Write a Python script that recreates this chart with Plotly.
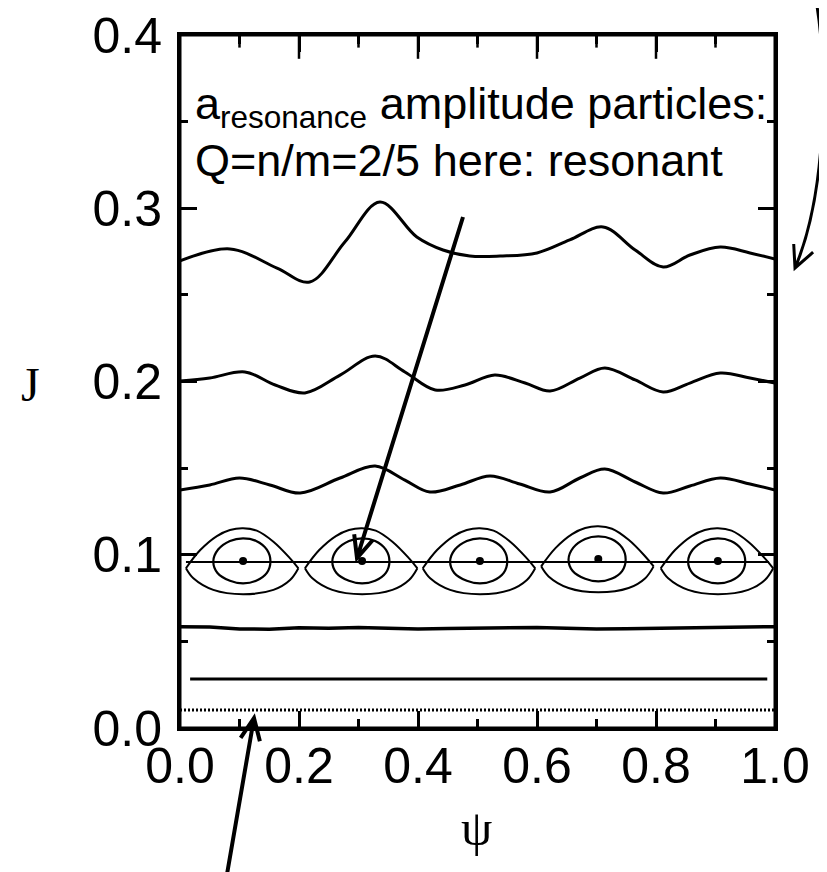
import math
import plotly.graph_objects as go

# ---------------- data ----------------
psi_c1 = [0.0, 0.084, 0.163, 0.218, 0.277, 0.336, 0.398, 0.442, 0.487, 0.538, 0.60, 0.655, 0.711, 0.765, 0.812, 0.857, 0.908, 0.958, 1.0]
J_c1 = [0.2696, 0.2765, 0.2655, 0.2574, 0.2805, 0.3036, 0.2834, 0.2759, 0.2724, 0.2724, 0.2742, 0.2817, 0.2892, 0.2759, 0.2661, 0.2730, 0.2776, 0.2742, 0.2707]

psi_c2 = [0.0, 0.05, 0.109, 0.16, 0.21, 0.269, 0.328, 0.378, 0.429, 0.479, 0.529, 0.58, 0.622, 0.672, 0.714, 0.765, 0.812, 0.857, 0.908, 0.958, 1.0]
J_c2 = [0.2003, 0.2020, 0.2055, 0.1980, 0.1934, 0.2037, 0.2147, 0.2055, 0.1951, 0.1980, 0.2037, 0.1991, 0.1945, 0.2020, 0.2078, 0.2009, 0.1940, 0.1991, 0.2049, 0.2020, 0.1991]

psi_c3 = [0.0, 0.05, 0.10, 0.151, 0.202, 0.269, 0.328, 0.378, 0.42, 0.471, 0.521, 0.571, 0.622, 0.672, 0.714, 0.765, 0.812, 0.857, 0.908, 0.958, 1.0]
J_c3 = [0.1374, 0.1403, 0.1443, 0.1403, 0.1356, 0.1443, 0.1512, 0.1431, 0.1362, 0.1403, 0.1455, 0.1408, 0.1362, 0.1443, 0.1495, 0.1420, 0.1356, 0.1397, 0.1443, 0.1408, 0.1374]

psi_c4 = [0.0, 0.05, 0.10, 0.15, 0.20, 0.25, 0.30, 0.35, 0.40, 0.45, 0.50, 0.55, 0.60, 0.65, 0.70, 0.75, 0.80, 0.85, 0.90, 0.95, 1.0]
J_c4 = [0.0585, 0.0583, 0.0572, 0.0570, 0.0578, 0.0576, 0.0580, 0.0577, 0.0571, 0.0574, 0.0577, 0.0580, 0.0580, 0.0576, 0.0571, 0.0573, 0.0576, 0.0577, 0.0577, 0.0580, 0.0585]

psi_c5 = [0.017, 0.2, 0.4, 0.6, 0.8, 0.987]
J_c5 = [0.0283, 0.0283, 0.0283, 0.0286, 0.0283, 0.0283]

psi_c6 = [0.0, 1.0]
J_c6 = [0.0104, 0.0104]

psi_sep = [0.01, 0.99]
J_sep = [0.0958, 0.0958]

# island centres (O-points)
island_psi = [0.106, 0.306, 0.504, 0.703, 0.904]
island_J = [0.0964, 0.0964, 0.0964, 0.0975, 0.0964]

# outer island contour: offsets in psi from the centre, absolute J
outer_top_dpsi = [-0.096, -0.072, -0.044, -0.022, 0.0, 0.023, 0.051, 0.079, 0.093]
outer_top_J = [0.0922, 0.1027, 0.1108, 0.1143, 0.1153, 0.1139, 0.1075, 0.0979, 0.0922]
outer_bot_dpsi = [0.093, 0.079, 0.051, 0.0, -0.050, -0.0835, -0.096]
outer_bot_J = [0.0922, 0.0854, 0.0797, 0.0772, 0.0797, 0.0864, 0.0922]

# inner island contour (closed)
inner_dpsi = [-0.050, -0.042, -0.022, 0.0, 0.022, 0.040, 0.046, 0.040, 0.022, 0.0, -0.022, -0.043, -0.050]
inner_J = [0.0962, 0.1030, 0.1080, 0.1095, 0.1080, 0.1030, 0.0962, 0.0895, 0.0850, 0.0835, 0.0850, 0.0895, 0.0962]

x_ticks = [0.0, 0.2, 0.4, 0.6, 0.8, 1.0]
x_minor_ticks = [0.1, 0.3, 0.5, 0.7, 0.9]
y_ticks = [0.0, 0.1, 0.2, 0.3, 0.4]
y_max = 0.4

# ---------------- figure ----------------
W, H = 827, 872
OFF = 8                          # page body margin added by the browser
L, R, T, B = 180, 775, 35, 728   # plot box as seen on screen (pixels)

def paper(px, py):
    return ((px - L) / (R - L), (B - py) / (B - T))

fig = go.Figure()

def line(x, y, w, dash=None, shape="spline"):
    fig.add_trace(go.Scatter(x=x, y=y, mode="lines",
                             line=dict(color="black", width=w, shape=shape, dash=dash),
                             hoverinfo="skip", showlegend=False, cliponaxis=True))

line(psi_c1, J_c1, 3)
line(psi_c2, J_c2, 3)
line(psi_c3, J_c3, 3)
line(psi_c4, J_c4, 3.5, shape="linear")
line(psi_c5, J_c5, 3, shape="linear")
line(psi_c6, J_c6, 3, dash="2px,2px", shape="linear")
line(psi_sep, J_sep, 2, shape="linear")

for pc, jc in zip(island_psi, island_J):
    dj = jc - island_J[0]
    line([pc + d for d in outer_top_dpsi], [j + dj for j in outer_top_J], 2)
    line([pc + d for d in outer_bot_dpsi], [j + dj for j in outer_bot_J], 2)
    line([pc + d for d in inner_dpsi], [j + dj for j in inner_J], 2.2)

fig.add_trace(go.Scatter(x=island_psi, y=island_J, mode="markers",
                         marker=dict(color="black", size=8),
                         hoverinfo="skip", showlegend=False))

# top-edge ticks (mirror of the psi axis), clipped to the plot so only the inner half shows
for vals, size in ((x_ticks[1:-1], 34), (x_minor_ticks, 18)):
    fig.add_trace(go.Scatter(x=vals, y=[y_max] * len(vals), mode="markers", cliponaxis=True,
                             marker=dict(symbol="line-ns-open", size=size, color="black",
                                         line=dict(color="black", width=2.5)),
                             hoverinfo="skip", showlegend=False))

tickfont = dict(family="Liberation Sans, Arial", size=50, color="black")
axis_common = dict(showline=True, linecolor="black", linewidth=3, mirror="allticks",
                   ticks="inside", ticklen=17, tickwidth=2.5, tickcolor="black",
                   showgrid=False, zeroline=False, tickfont=tickfont, tickformat=".1f",
                   automargin=False, ticklabeloverflow="allow")

xminor = dict(ticks="inside", ticklen=9, tickwidth=2.5, tickcolor="black", dtick=0.1, showgrid=False)
fig.update_xaxes(range=[0, 1], tickvals=x_ticks, ticklabelstandoff=-8, minor=xminor, **axis_common)
fig.update_yaxes(range=[0, y_max], tickvals=y_ticks, ticklabelstandoff=5,
                 minor=dict(ticks="inside", ticklen=8, tickwidth=2.5, tickcolor="black", dtick=0.05, showgrid=False),
                 **axis_common)

# frame drawn explicitly as well, so the top/right edges are always shown
fig.add_shape(type="rect", xref="paper", yref="paper", x0=0, y0=0, x1=1, y1=1,
              line=dict(color="black", width=3), layer="above")

# ---------------- text ----------------
txtfont = dict(family="Liberation Sans, Arial", size=45, color="black")
ax1, ay1 = paper(193, 106)
fig.add_annotation(xref="paper", yref="paper", x=ax1, y=ay1, xanchor="left", yanchor="middle",
                   text="a<sub>resonance</sub> amplitude particles:", showarrow=False, font=txtfont)
ax2, ay2 = paper(193, 160)
fig.add_annotation(xref="paper", yref="paper", x=ax2, y=ay2, xanchor="left", yanchor="middle",
                   text="Q=n/m=2/5 here: resonant", showarrow=False, font=txtfont)

jx, jy = paper(30, 385)
fig.add_annotation(xref="paper", yref="paper", x=jx, y=jy, xanchor="center", yanchor="middle",
                   text="J", showarrow=False,
                   font=dict(family="Liberation Serif, Times New Roman, serif", size=48, color="black"))
px_, py_ = paper(476, 828)
fig.add_annotation(xref="paper", yref="paper", x=px_, y=py_, xanchor="center", yanchor="middle",
                   text="ψ", showarrow=False,
                   font=dict(family="Liberation Serif, Times New Roman, serif", size=50, color="black"))

# ---------------- arrows (decorations, in screen pixel space) ----------------
def head(tip, frm, length=24, ang=24):
    dx, dy = tip[0] - frm[0], tip[1] - frm[1]
    n = math.hypot(dx, dy)
    ux, uy = dx / n, dy / n
    pts = []
    for s in (1, -1):
        a = math.radians(ang) * s
        rx = ux * math.cos(a) - uy * math.sin(a)
        ry = ux * math.sin(a) + uy * math.cos(a)
        pts.append((tip[0] - length * rx, tip[1] - length * ry))
    return pts

def P(pt):
    x, y = paper(*pt)
    return f"{x:.5f},{y:.5f}"

def straight_arrow(tail, tip):
    h1, h2 = head(tip, tail)
    path = f"M{P(tail)} L{P(tip)} M{P(h1)} L{P(tip)} L{P(h2)}"
    fig.add_shape(type="path", xref="paper", yref="paper", path=path,
                  line=dict(color="black", width=4))

straight_arrow((463, 217), (357, 558))
straight_arrow((226, 880), (254, 718))

# curved arrow at top right
c0, c1, c2, c3 = (815, -5), (828, 60), (828, 190), (795, 268)
h1, h2 = head(c3, c2, length=24, ang=26)
path = f"M{P(c0)} C{P(c1)} {P(c2)} {P(c3)} M{P(h1)} L{P(c3)} L{P(h2)}"
fig.add_shape(type="path", xref="paper", yref="paper", path=path,
              line=dict(color="black", width=3))

fig.update_layout(width=W, height=H,
                  margin=dict(l=L - OFF, r=W - (R - OFF), t=T - OFF, b=H - (B - OFF)),
                  plot_bgcolor="white", paper_bgcolor="white", showlegend=False)

fig.write_html("out.html")
